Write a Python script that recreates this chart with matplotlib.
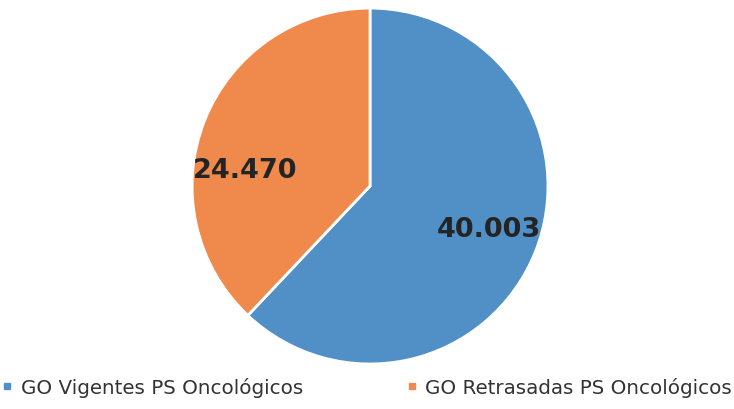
import matplotlib.pyplot as plt
from matplotlib.lines import Line2D

categories = ["GO Vigentes PS Oncológicos", "GO Retrasadas PS Oncológicos"]
values = [40003, 24470]
value_labels = ["40.003", "24.470"]
colors = ["#5190c6", "#ef8a4c"]
# label positions inside the pie, in units of the radius
label_pos = [(0.67, -0.24), (-0.70, 0.09)]

fig = plt.figure(figsize=(7.34, 4.10), dpi=100)
ax = fig.add_axes([0.2616, 0.1098, 0.485, 0.868])

wedges, _ = ax.pie(values, colors=colors, startangle=90, counterclock=False,
                   wedgeprops=dict(edgecolor="white", linewidth=2))
ax.set_xlim(-1.0, 1.0)
ax.set_ylim(-1.0, 1.0)
ax.set_aspect("equal")

for lab, (x, y) in zip(value_labels, label_pos):
    ax.text(x, y, lab, ha="center", va="center", fontsize=19.5,
            fontweight="bold", color="#242424")

handles = [Line2D([0], [0], marker="s", linestyle="", markersize=5,
                  markerfacecolor=c, markeredgecolor=c) for c in colors]
fig.legend(handles, categories, loc="lower left", bbox_to_anchor=(-0.016, -0.005),
           ncol=2, frameon=False, fontsize=14.3, handlelength=0.5,
           handletextpad=0.45, columnspacing=5.2, labelcolor="#333333",
           borderaxespad=0.3)

fig.savefig("out.png", dpi=100)
